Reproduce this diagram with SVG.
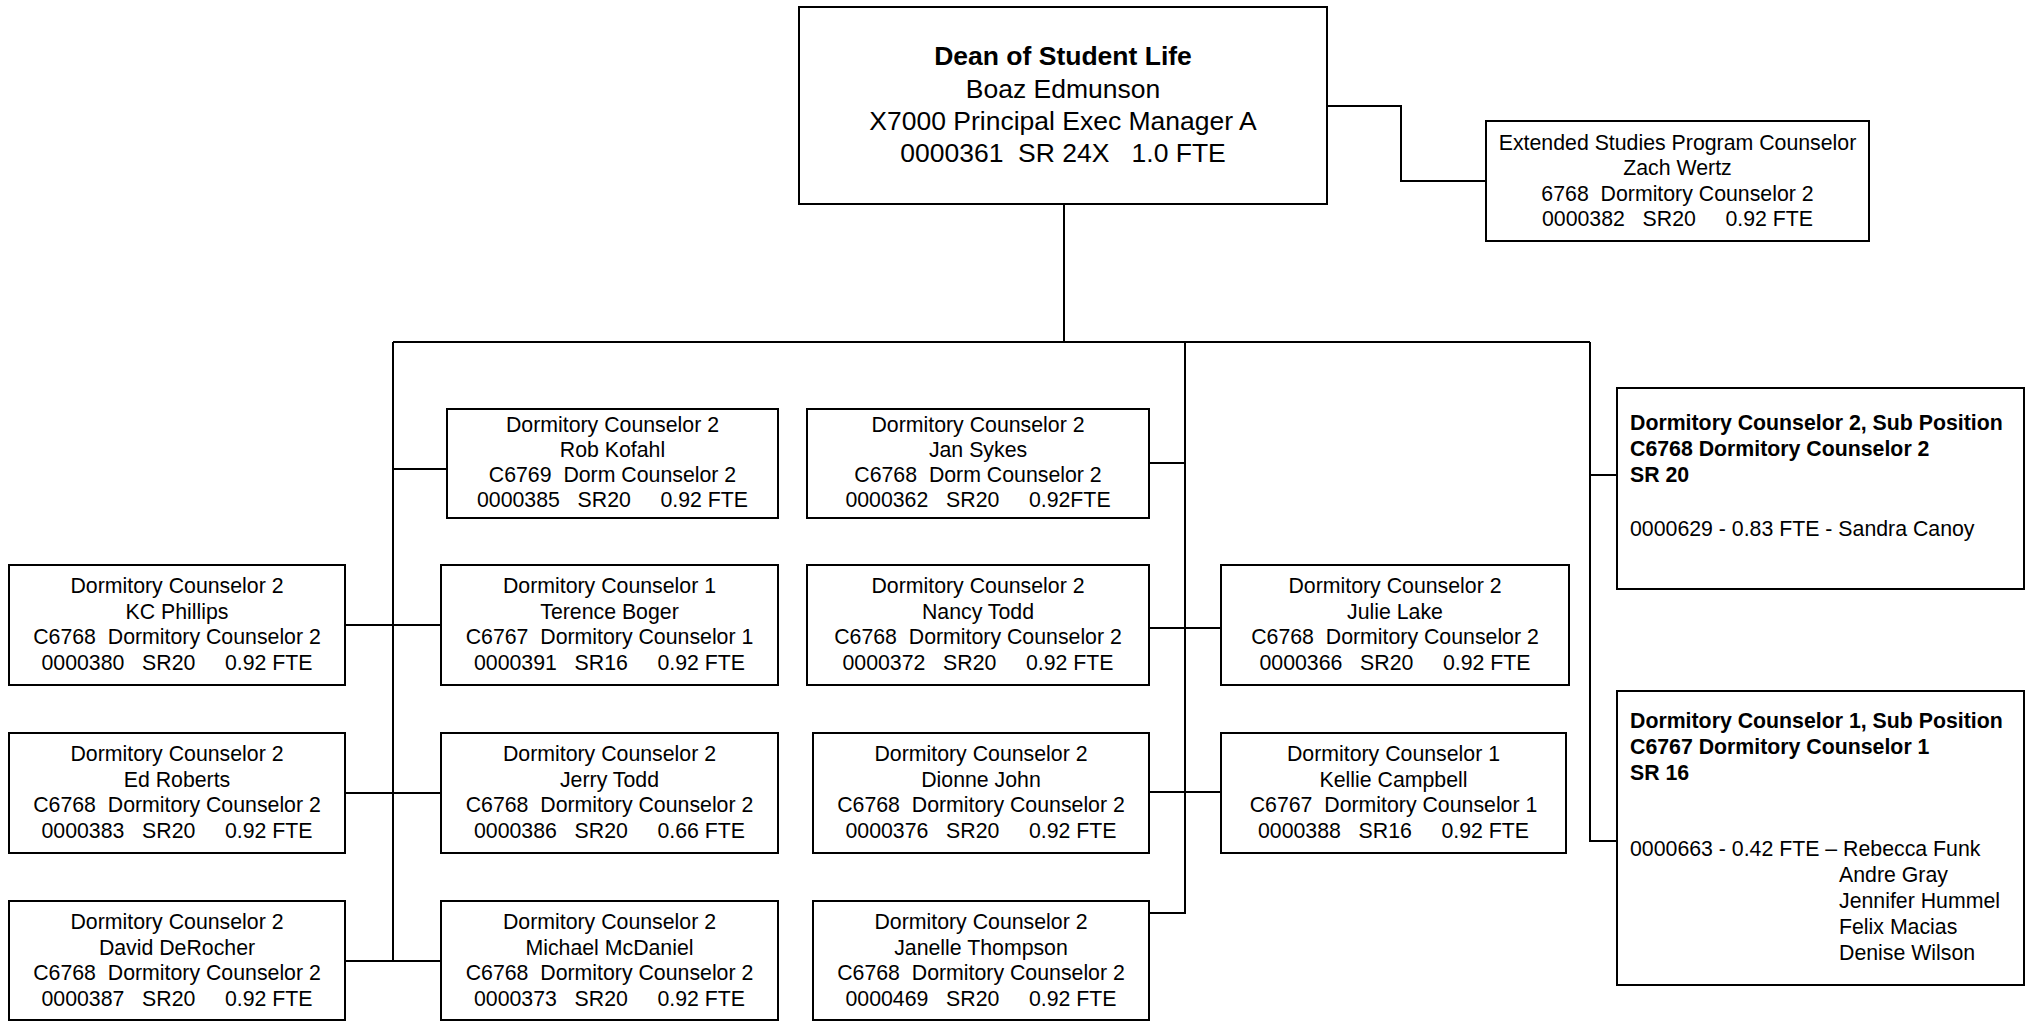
<svg xmlns="http://www.w3.org/2000/svg" width="2026" height="1021" viewBox="0 0 2026 1021" xml:space="preserve">
<style>
.bx{fill:#fff;stroke:#000;stroke-width:2}
.ln{fill:none;stroke:#000;stroke-width:2}
text{font-family:"Liberation Sans",Arial,sans-serif;font-size:21.3px;fill:#000;white-space:pre}
.c{text-anchor:middle}
.b{font-weight:bold}
.big{font-size:26.5px}
</style>
<rect width="2026" height="1021" fill="#fff"/>
<g id="connectors">
<polyline class="ln" points="1064,204 1064,342"/>
<polyline class="ln" points="393,342 1590,342"/>
<polyline class="ln" points="1327,106 1401,106 1401,181 1486,181"/>
<polyline class="ln" points="393,342 393,961"/>
<polyline class="ln" points="1185,342 1185,913 1149,913"/>
<polyline class="ln" points="1590,342 1590,841 1617,841"/>
<polyline class="ln" points="1590,475 1617,475"/>
<polyline class="ln" points="393,469 447,469"/>
<polyline class="ln" points="345,625 441,625"/>
<polyline class="ln" points="345,793 441,793"/>
<polyline class="ln" points="345,961 441,961"/>
<polyline class="ln" points="1149,463 1185,463"/>
<polyline class="ln" points="1149,628 1221,628"/>
<polyline class="ln" points="1149,792 1221,792"/>
</g>
<g id="dean">
<rect class="bx" x="799" y="7" width="528" height="197"/>
<text class="c b big" x="1063" y="65">Dean of Student Life</text>
<text class="c big" x="1063" y="98">Boaz Edmunson</text>
<text class="c big" x="1063" y="130">X7000 Principal Exec Manager A</text>
<text class="c big" x="1063" y="162">0000361  SR 24X   1.0 FTE</text>
</g>
<g id="zach-wertz">
<rect class="bx" x="1486" y="121" width="383" height="120"/>
<text class="c" x="1677.5" y="150">Extended Studies Program Counselor</text>
<text class="c" x="1677.5" y="175">Zach Wertz</text>
<text class="c" x="1677.5" y="201">6768  Dormitory Counselor 2</text>
<text class="c" x="1677.5" y="226">0000382   SR20     0.92 FTE</text>
</g>
<g id="rob-kofahl">
<rect class="bx" x="447" y="409" width="331" height="109"/>
<text class="c" x="612.5" y="432">Dormitory Counselor 2</text>
<text class="c" x="612.5" y="457">Rob Kofahl</text>
<text class="c" x="612.5" y="482">C6769  Dorm Counselor 2</text>
<text class="c" x="612.5" y="507">0000385   SR20     0.92 FTE</text>
</g>
<g id="jan-sykes">
<rect class="bx" x="807" y="409" width="342" height="109"/>
<text class="c" x="978" y="432">Dormitory Counselor 2</text>
<text class="c" x="978" y="457">Jan Sykes</text>
<text class="c" x="978" y="482">C6768  Dorm Counselor 2</text>
<text class="c" x="978" y="507">0000362   SR20     0.92FTE</text>
</g>
<g id="kc-phillips">
<rect class="bx" x="9" y="565" width="336" height="120"/>
<text class="c" x="177" y="593">Dormitory Counselor 2</text>
<text class="c" x="177" y="619">KC Phillips</text>
<text class="c" x="177" y="644">C6768  Dormitory Counselor 2</text>
<text class="c" x="177" y="670">0000380   SR20     0.92 FTE</text>
</g>
<g id="terence-boger">
<rect class="bx" x="441" y="565" width="337" height="120"/>
<text class="c" x="609.5" y="593">Dormitory Counselor 1</text>
<text class="c" x="609.5" y="619">Terence Boger</text>
<text class="c" x="609.5" y="644">C6767  Dormitory Counselor 1</text>
<text class="c" x="609.5" y="670">0000391   SR16     0.92 FTE</text>
</g>
<g id="nancy-todd">
<rect class="bx" x="807" y="565" width="342" height="120"/>
<text class="c" x="978" y="593">Dormitory Counselor 2</text>
<text class="c" x="978" y="619">Nancy Todd</text>
<text class="c" x="978" y="644">C6768  Dormitory Counselor 2</text>
<text class="c" x="978" y="670">0000372   SR20     0.92 FTE</text>
</g>
<g id="julie-lake">
<rect class="bx" x="1221" y="565" width="348" height="120"/>
<text class="c" x="1395" y="593">Dormitory Counselor 2</text>
<text class="c" x="1395" y="619">Julie Lake</text>
<text class="c" x="1395" y="644">C6768  Dormitory Counselor 2</text>
<text class="c" x="1395" y="670">0000366   SR20     0.92 FTE</text>
</g>
<g id="ed-roberts">
<rect class="bx" x="9" y="733" width="336" height="120"/>
<text class="c" x="177" y="761">Dormitory Counselor 2</text>
<text class="c" x="177" y="787">Ed Roberts</text>
<text class="c" x="177" y="812">C6768  Dormitory Counselor 2</text>
<text class="c" x="177" y="838">0000383   SR20     0.92 FTE</text>
</g>
<g id="jerry-todd">
<rect class="bx" x="441" y="733" width="337" height="120"/>
<text class="c" x="609.5" y="761">Dormitory Counselor 2</text>
<text class="c" x="609.5" y="787">Jerry Todd</text>
<text class="c" x="609.5" y="812">C6768  Dormitory Counselor 2</text>
<text class="c" x="609.5" y="838">0000386   SR20     0.66 FTE</text>
</g>
<g id="dionne-john">
<rect class="bx" x="813" y="733" width="336" height="120"/>
<text class="c" x="981" y="761">Dormitory Counselor 2</text>
<text class="c" x="981" y="787">Dionne John</text>
<text class="c" x="981" y="812">C6768  Dormitory Counselor 2</text>
<text class="c" x="981" y="838">0000376   SR20     0.92 FTE</text>
</g>
<g id="kellie-campbell">
<rect class="bx" x="1221" y="733" width="345" height="120"/>
<text class="c" x="1393.5" y="761">Dormitory Counselor 1</text>
<text class="c" x="1393.5" y="787">Kellie Campbell</text>
<text class="c" x="1393.5" y="812">C6767  Dormitory Counselor 1</text>
<text class="c" x="1393.5" y="838">0000388   SR16     0.92 FTE</text>
</g>
<g id="david-derocher">
<rect class="bx" x="9" y="901" width="336" height="119"/>
<text class="c" x="177" y="929">Dormitory Counselor 2</text>
<text class="c" x="177" y="955">David DeRocher</text>
<text class="c" x="177" y="980">C6768  Dormitory Counselor 2</text>
<text class="c" x="177" y="1006">0000387   SR20     0.92 FTE</text>
</g>
<g id="michael-mcdaniel">
<rect class="bx" x="441" y="901" width="337" height="119"/>
<text class="c" x="609.5" y="929">Dormitory Counselor 2</text>
<text class="c" x="609.5" y="955">Michael McDaniel</text>
<text class="c" x="609.5" y="980">C6768  Dormitory Counselor 2</text>
<text class="c" x="609.5" y="1006">0000373   SR20     0.92 FTE</text>
</g>
<g id="janelle-thompson">
<rect class="bx" x="813" y="901" width="336" height="119"/>
<text class="c" x="981" y="929">Dormitory Counselor 2</text>
<text class="c" x="981" y="955">Janelle Thompson</text>
<text class="c" x="981" y="980">C6768  Dormitory Counselor 2</text>
<text class="c" x="981" y="1006">0000469   SR20     0.92 FTE</text>
</g>
<g id="sub-position-2">
<rect class="bx" x="1617" y="388" width="407" height="201"/>
<text class="b" x="1630" y="430">Dormitory Counselor 2, Sub Position</text>
<text class="b" x="1630" y="456">C6768 Dormitory Counselor 2</text>
<text class="b" x="1630" y="482">SR 20</text>
<text x="1630" y="536">0000629 - 0.83 FTE - Sandra Canoy</text>
</g>
<g id="sub-position-1">
<rect class="bx" x="1617" y="691" width="407" height="294"/>
<text class="b" x="1630" y="728">Dormitory Counselor 1, Sub Position</text>
<text class="b" x="1630" y="754">C6767 Dormitory Counselor 1</text>
<text class="b" x="1630" y="780">SR 16</text>
<text x="1630" y="856">0000663 - 0.42 FTE – Rebecca Funk</text>
<text x="1839" y="882">Andre Gray</text>
<text x="1839" y="908">Jennifer Hummel</text>
<text x="1839" y="934">Felix Macias</text>
<text x="1839" y="960">Denise Wilson</text>
</g>
</svg>
